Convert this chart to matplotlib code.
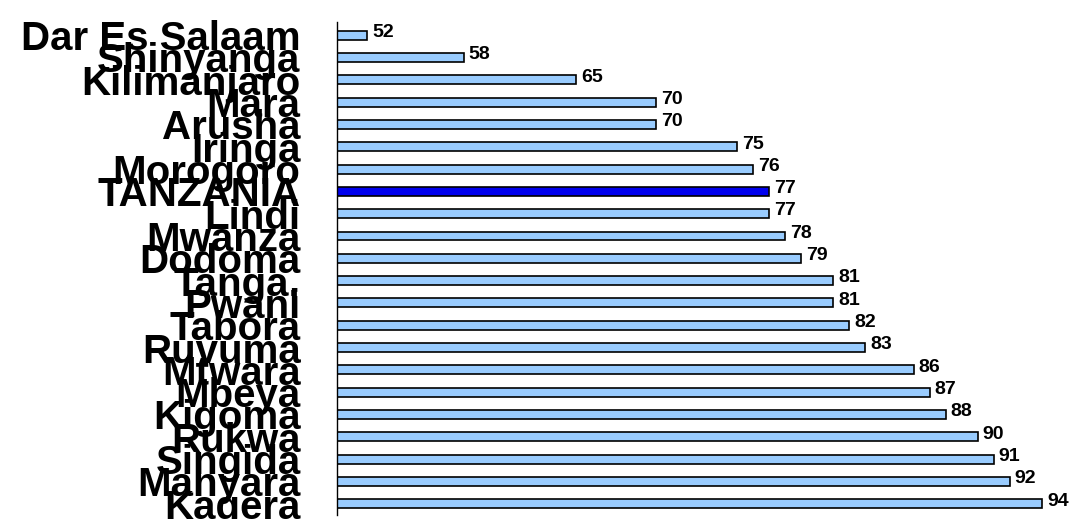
import matplotlib.pyplot as plt

regions = ["Dar Es Salaam","Shinyanga","Kilimanjaro","Mara","Arusha","Iringa","Morogoro",
           "TANZANIA","Lindi","Mwanza","Dodoma","Tanga.","Pwani","Tabora","Ruvuma","Mtwara",
           "Mbeya","Kigoma","Rukwa","Singida","Manyara","Kagera"]
values = [52,58,65,70,70,75,76,77,77,78,79,81,81,82,83,86,87,88,90,91,92,94]

fig = plt.figure(figsize=(10.86,5.19), dpi=100)
ax = fig.add_axes([0.31, 0.008, 0.66, 0.95])
colors = ['#0000ee' if r == "TANZANIA" else '#99ccff' for r in regions]
y = list(range(len(regions)))
ax.barh(y, values, height=0.4, color=colors, edgecolor='black', linewidth=1.2)
ax.set_xlim(50.1, 94.7)
ax.set_ylim(len(regions)-0.5, -0.6)
ax.set_yticks(y)
ax.set_yticklabels(regions, fontsize=29, fontweight='bold', family='Liberation Sans')
ax.tick_params(axis='y', length=0, pad=26)
ax.set_xticks([])
for s in ['top','right','bottom']:
    ax.spines[s].set_visible(False)
ax.spines['left'].set_linewidth(1)
for yi, v in zip(y, values):
    ax.text(v+0.3, yi-0.12, str(v), va='center', ha='left', fontsize=14, fontweight='bold', family='Liberation Sans')
fig.savefig('out.png', dpi=100)
